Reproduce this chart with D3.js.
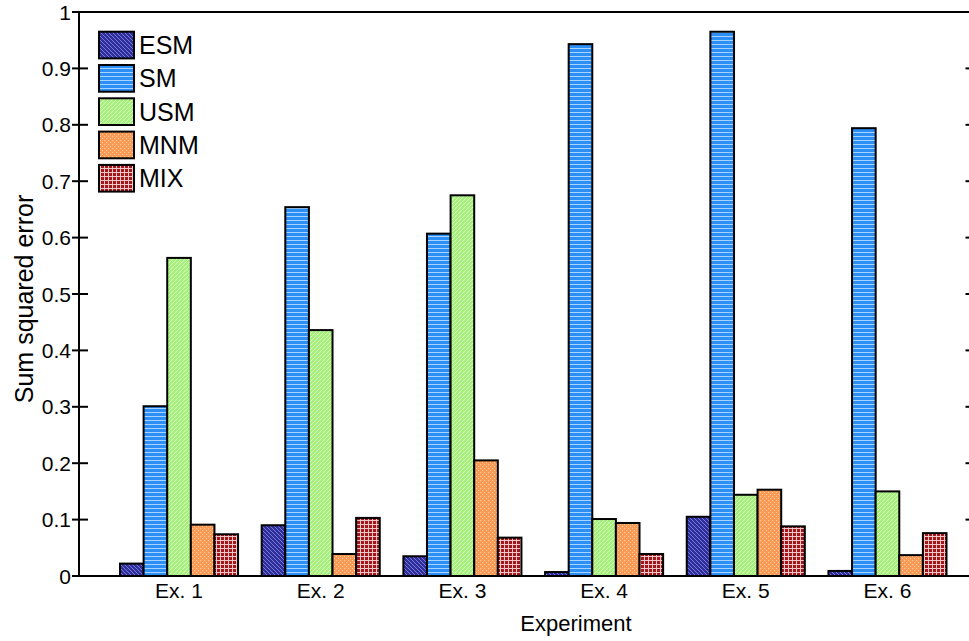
<!DOCTYPE html>
<html>
<head>
<meta charset="utf-8">
<script src="https://cdn.jsdelivr.net/npm/d3@7"></script>
<style>
  html, body { margin: 0; padding: 0; background: #fff; }
  svg { display: block; }
  text { font-family: "Liberation Sans", Arial, Helvetica, sans-serif; fill: #000; }
</style>
</head>
<body>
<svg id="chart" width="969" height="641"></svg>
<script>
// ---- data ----
const categories = ["Ex. 1", "Ex. 2", "Ex. 3", "Ex. 4", "Ex. 5", "Ex. 6"];
const seriesNames = ["ESM", "SM", "USM", "MNM", "MIX"];
const ESM = [0.022, 0.090, 0.035, 0.007, 0.105, 0.009];
const SM  = [0.301, 0.654, 0.607, 0.943, 0.965, 0.794];
const USM = [0.564, 0.436, 0.675, 0.101, 0.144, 0.150];
const MNM = [0.091, 0.039, 0.205, 0.094, 0.153, 0.037];
const MIX = [0.074, 0.103, 0.068, 0.039, 0.088, 0.076];
const seriesValues = [ESM, SM, USM, MNM, MIX];
const yTicks = [0, 0.1, 0.2, 0.3, 0.4, 0.5, 0.6, 0.7, 0.8, 0.9, 1];
const xLabel = "Experiment";
const yLabel = "Sum squared error";

(function () {
// ---- layout ----
const svg = d3.select("#chart");
const pl = 79, pt = 12, pb = 576, pr = 987.5;
const y = d3.scaleLinear().domain([0, 1]).range([pb, pt]);
const x = d3.scaleLinear().domain([0.294, 6.706]).range([pl, pr]);
const catW = x(2) - x(1);
const groupW = catW * 0.8333;
const sub = d3.scaleBand().domain(seriesNames).range([-groupW / 2, groupW / 2]).paddingInner(0);

// ---- patterns ----
const defs = svg.append("defs");
function pat(id, size, bg, draw) {
  const p = defs.append("pattern").attr("id", id).attr("patternUnits", "userSpaceOnUse")
    .attr("width", size).attr("height", size);
  p.append("rect").attr("width", size).attr("height", size).attr("fill", bg);
  draw(p);
}
pat("pESM", 4, "#2e2e9c", p => {
  p.append("path").attr("d", "M0,0 L4,4 M-1,3 L1,5 M3,-1 L5,1").attr("stroke", "#8080d8").attr("stroke-width", 0.9);
});
pat("pSM", 4, "#2b8ff5", p => {
  p.append("rect").attr("x", 0).attr("y", 0).attr("width", 4).attr("height", 1).attr("fill", "#a8d4ff");
});
pat("pUSM", 4, "#a6f07c", p => {
  p.append("path").attr("d", "M0,4 L4,0 M-1,1 L1,-1 M3,5 L5,3").attr("stroke", "#dcffc8").attr("stroke-width", 0.9);
});
pat("pMNM", 4, "#fb9a55", p => {
  p.append("rect").attr("x", 0).attr("y", 0).attr("width", 1).attr("height", 1).attr("fill", "#ffd6b0");
  p.append("rect").attr("x", 2).attr("y", 2).attr("width", 1).attr("height", 1).attr("fill", "#ffd6b0");
});
pat("pMIX", 4, "#a3171c", p => {
  p.append("rect").attr("x", 0).attr("y", 0).attr("width", 4).attr("height", 1).attr("fill", "#f0c8c8");
  p.append("rect").attr("x", 0).attr("y", 0).attr("width", 1).attr("height", 4).attr("fill", "#f0c8c8");
});
const fills = { ESM: "url(#pESM)", SM: "url(#pSM)", USM: "url(#pUSM)", MNM: "url(#pMNM)", MIX: "url(#pMIX)" };

// ---- bars ----
const bars = [];
seriesNames.forEach((s, si) => {
  seriesValues[si].forEach((v, ci) => bars.push({ s, ci, v }));
});
svg.append("g").selectAll("rect").data(bars).join("rect")
  .attr("x", d => x(d.ci + 1) + sub(d.s))
  .attr("y", d => y(d.v))
  .attr("width", sub.bandwidth())
  .attr("height", d => y(0) - y(d.v))
  .attr("fill", d => fills[d.s])
  .attr("stroke", "#000")
  .attr("stroke-width", 2);

// ---- axes ----
const ax = svg.append("g");
ax.append("line").attr("x1", pl).attr("x2", pl).attr("y1", pt).attr("y2", pb).attr("stroke", "#000").attr("stroke-width", 2);
ax.append("line").attr("x1", pl - 1).attr("x2", 969).attr("y1", pb).attr("y2", pb).attr("stroke", "#000").attr("stroke-width", 2);
ax.append("line").attr("x1", pl - 1).attr("x2", 969).attr("y1", pt).attr("y2", pt).attr("stroke", "#000").attr("stroke-width", 2);
ax.append("line").attr("x1", pr).attr("x2", pr).attr("y1", pt).attr("y2", pb).attr("stroke", "#000").attr("stroke-width", 2);

yTicks.forEach(t => {
  ax.append("line").attr("x1", pl - 7).attr("x2", pl + 9).attr("y1", y(t)).attr("y2", y(t)).attr("stroke", "#000").attr("stroke-width", 2);
  ax.append("line").attr("x1", pr - 22).attr("x2", pr).attr("y1", y(t)).attr("y2", y(t)).attr("stroke", "#000").attr("stroke-width", 2);
  ax.append("text").attr("x", pl - 8).attr("y", y(t)).attr("dy", "0.36em")
    .attr("text-anchor", "end").attr("font-size", 21).text(d3.format("")(t));
});

categories.forEach((c, i) => {
  ax.append("text").attr("x", x(i + 1)).attr("y", 598).attr("text-anchor", "middle")
    .attr("font-size", 21).text(c);
});

svg.append("text").attr("x", 576).attr("y", 631).attr("text-anchor", "middle")
  .attr("font-size", 22).text(xLabel);
svg.append("text").attr("transform", "translate(33,299) rotate(-90)").attr("text-anchor", "middle")
  .attr("font-size", 25).text(yLabel);

// ---- legend ----
const lg = svg.append("g");
seriesNames.forEach((s, i) => {
  const ty = 31.7 + i * 33.3;
  lg.append("rect").attr("x", 99).attr("y", ty).attr("width", 35).attr("height", 26.7)
    .attr("fill", fills[s]).attr("stroke", "#000").attr("stroke-width", 2);
  lg.append("text").attr("x", 139).attr("y", ty + 13.3).attr("dy", "0.36em")
    .attr("font-size", 25).text(s);
});
})();
</script>
</body>
</html>
